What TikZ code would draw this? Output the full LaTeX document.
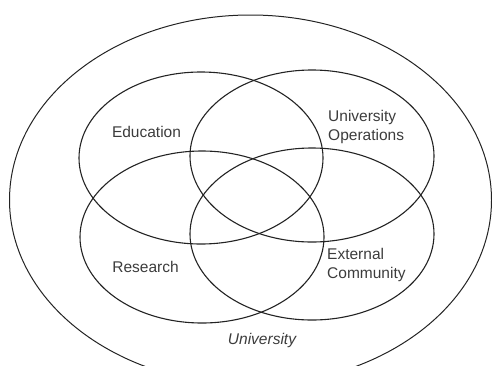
\documentclass[tikz,border=0pt]{standalone}
\usepackage{fontspec}
\setmainfont{Liberation Sans}
\usepackage{xcolor}
\usetikzlibrary{positioning,shapes.geometric}
\definecolor{inkgray}{RGB}{35,35,35}
\definecolor{textgray}{RGB}{60,60,60}

\begin{document}
\begin{tikzpicture}[x=1pt,y=-1pt,
  area/.style={ellipse, draw=inkgray, line width=1.1pt, minimum width=244pt, minimum height=172pt, inner sep=0pt},
  lbl/.style={text=textgray, font=\fontsize{15.5}{19}\selectfont, align=left, inner sep=0pt}]
  \useasboundingbox (0,0) rectangle (492,365);
  \clip (0,0) rectangle (492,365);
  \node[ellipse, draw=inkgray, line width=1pt, minimum width=482pt, minimum height=370pt, inner sep=0pt](uni) at (250.5,200){};
  \node[area](edu) at (201,158){};
  \node[area](ops) at (312,156){};
  \node[area](res) at (202,237){};
  \node[area](ext) at (312,234){};
  \node[lbl](edutxt) at (146.5,131.5){Education};
  \node[lbl,anchor=west](opstxt) at (328,126.5){University\\Operations};
  \node[lbl](restxt) at (145.5,266.5){Research};
  \node[lbl,anchor=west](exttxt) at (327,264.5){External\\Community};
  \node[lbl,font=\fontsize{15.5}{19}\selectfont\itshape](unitxt) at (262,340.5){University};
\end{tikzpicture}
\end{document}
